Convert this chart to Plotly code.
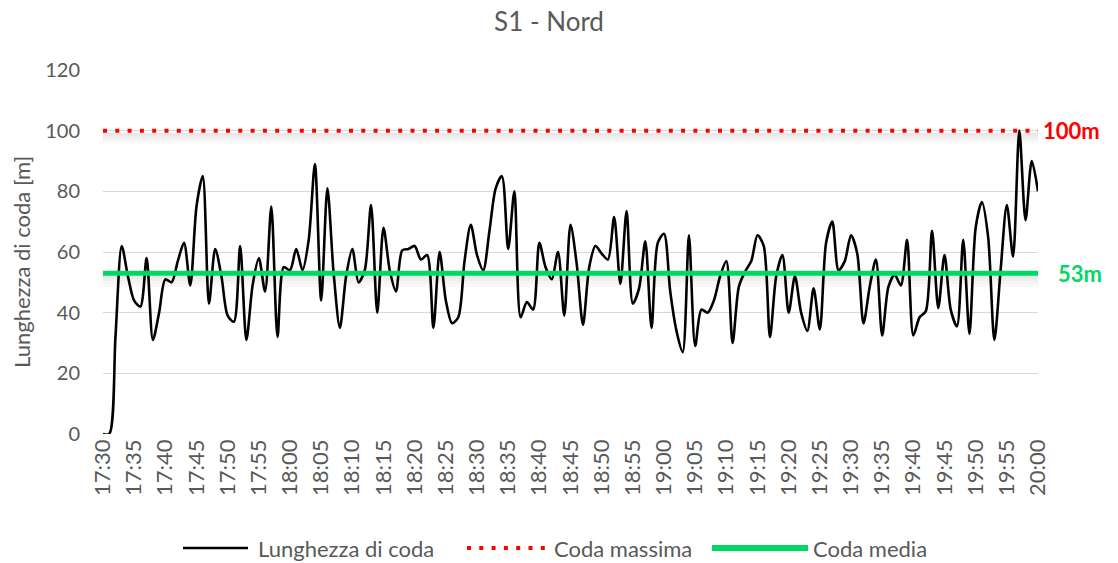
import plotly.graph_objects as go

# ---- data ----
start_h, start_m = 17, 30
n_minutes = 151
times = [f"{(start_h*60+start_m+i)//60:02d}:{(start_h*60+start_m+i)%60:02d}" for i in range(n_minutes)]
tick_labels = times[::5]

queue_length = [
    0, 0, 32, 62, 52, 44, 42, 58, 31, 40,
    51, 50, 57, 63, 49, 75, 85, 43, 61, 52,
    39, 37, 62, 31, 49, 58, 47, 75, 32, 55,
    54, 61, 54, 64, 89, 44, 81, 53, 35, 52,
    61, 50, 54, 75.5, 40, 68, 54, 47, 60.5, 61,
    62, 57.5, 59, 35, 60, 44, 36.5, 38.5, 57, 69,
    59, 54, 67, 81, 85, 61, 80, 38.5, 43.5, 41,
    63, 55, 51, 60, 39, 69, 56, 36, 55, 62,
    59.5, 57.5, 71.5, 49.5, 73.5, 43, 48, 63.5, 35, 63,
    66, 47, 34, 27, 65.5, 29, 41, 40, 44, 52,
    57, 30, 48.5, 53.5, 57, 65.5, 62, 32, 52, 59,
    40, 52, 40, 34, 48, 34.5, 63, 70, 54, 57,
    65.5, 59.5, 36.5, 48.5, 57.5, 32.5, 48.5, 52.5, 49, 64,
    32.5, 38.5, 40.5, 67, 41.5, 59, 41, 35.5, 64, 33,
    68, 76.5, 65, 31, 54, 75.5, 58.5, 100, 70.5, 90,
    80,
]
max_queue = 100
mean_queue = 53
y_ticks = [0, 20, 40, 60, 80, 100, 120]
series_names = ["Lunghezza di coda", "Coda massima", "Coda media"]

GREEN = "#00D864"
RED = "#FF0000"
GREY_TXT = "#595959"
FONT = "Lato"

W, H = 1118, 563
ML, MR, MT, MB = 103, 80, 70, 129
PW, PH = W - ML - MR, H - MT - MB


def px(x):
    return (x - ML) / PW


def py(y):
    return (H - MB - y) / PH


fig = go.Figure()

fig.add_trace(go.Scatter(
    x=times, y=queue_length, mode="lines", name=series_names[0],
    line=dict(color="black", width=2.6, shape="spline", smoothing=0.8),
))
fig.add_trace(go.Scatter(
    x=times, y=[max_queue]*n_minutes, mode="lines", name=series_names[1],
    line=dict(color=RED, width=4, dash="4px,8.3px"),
))
fig.add_trace(go.Scatter(
    x=times, y=[mean_queue]*n_minutes, mode="lines", name=series_names[2],
    line=dict(color=GREEN, width=5),
))

# soft shadows under the reference lines
shapes = []
for val in (max_queue, mean_queue):
    for k, a in enumerate([0.09, 0.065, 0.04, 0.02]):
        shapes.append(dict(
            type="rect", xref="paper", x0=0, x1=1, yref="y", ysizemode="pixel",
            yanchor=val, y0=-2 - 3*k, y1=-5 - 3*k, fillcolor=f"rgba(0,0,0,{a})",
            line=dict(width=0), layer="below",
        ))

# legend drawn by hand (long symbols as in the reference)
leg_y = py(548)
shapes += [
    dict(type="line", xref="paper", yref="paper", x0=px(183), x1=px(248), y0=leg_y, y1=leg_y,
         line=dict(color="black", width=2.6)),
    dict(type="line", xref="paper", yref="paper", x0=px(467), x1=px(550), y0=leg_y, y1=leg_y,
         line=dict(color=RED, width=4, dash="4px,8.3px")),
    dict(type="line", xref="paper", yref="paper", x0=px(712), x1=px(808), y0=leg_y, y1=leg_y,
         line=dict(color=GREEN, width=6)),
]

annotations = [
    dict(text="<b>100m</b>", xref="paper", x=1, xanchor="left", xshift=3,
         yref="y", y=max_queue, yanchor="middle", showarrow=False,
         font=dict(size=22, color=RED, family=FONT)),
    dict(text="<b>53m</b>", xref="paper", x=1, xanchor="left", xshift=18,
         yref="y", y=mean_queue, yanchor="middle", showarrow=False,
         font=dict(size=22, color=GREEN, family=FONT)),
    dict(text="Lunghezza di coda [m]", xref="paper", x=px(21), yref="paper", y=py(262),
         xanchor="center", yanchor="middle", textangle=-90, showarrow=False,
         font=dict(size=22, color=GREY_TXT, family=FONT)),
]
for name, xs in zip(series_names, (256, 552, 811)):
    annotations.append(dict(text=name, xref="paper", x=px(xs), xanchor="left", yref="paper",
                            y=leg_y, yanchor="middle", showarrow=False,
                            font=dict(size=22, color=GREY_TXT, family=FONT)))

fig.update_layout(
    width=W, height=H,
    paper_bgcolor="white", plot_bgcolor="white",
    margin=dict(l=ML, r=MR, t=MT, b=MB, autoexpand=False),
    font=dict(family=FONT, color=GREY_TXT),
    title=dict(text="S1 - Nord", x=549 / W, xanchor="center", y=1 - 22 / H, yanchor="middle",
               font=dict(size=26, color=GREY_TXT, family=FONT)),
    showlegend=False,
    shapes=shapes,
    annotations=annotations,
)

fig.update_xaxes(
    type="category", range=[0, n_minutes-1], tickmode="array", tickvals=tick_labels,
    ticktext=tick_labels, tickangle=-90, showgrid=False, showline=False, automargin=False,
    zeroline=False, ticks="", tickfont=dict(size=22, color=GREY_TXT, family=FONT),
)
fig.update_yaxes(
    range=[0, 120], tickvals=y_ticks, showgrid=True, gridcolor="#D9D9D9", gridwidth=1.3,
    zeroline=False, showline=False, ticks="", ticklabelstandoff=22, automargin=False,
    tickfont=dict(size=20, color=GREY_TXT, family=FONT),
)

fig.write_html("out.html", config={"displayModeBar": False},
               post_script="document.body.style.margin='0';document.body.style.overflow='hidden';")
